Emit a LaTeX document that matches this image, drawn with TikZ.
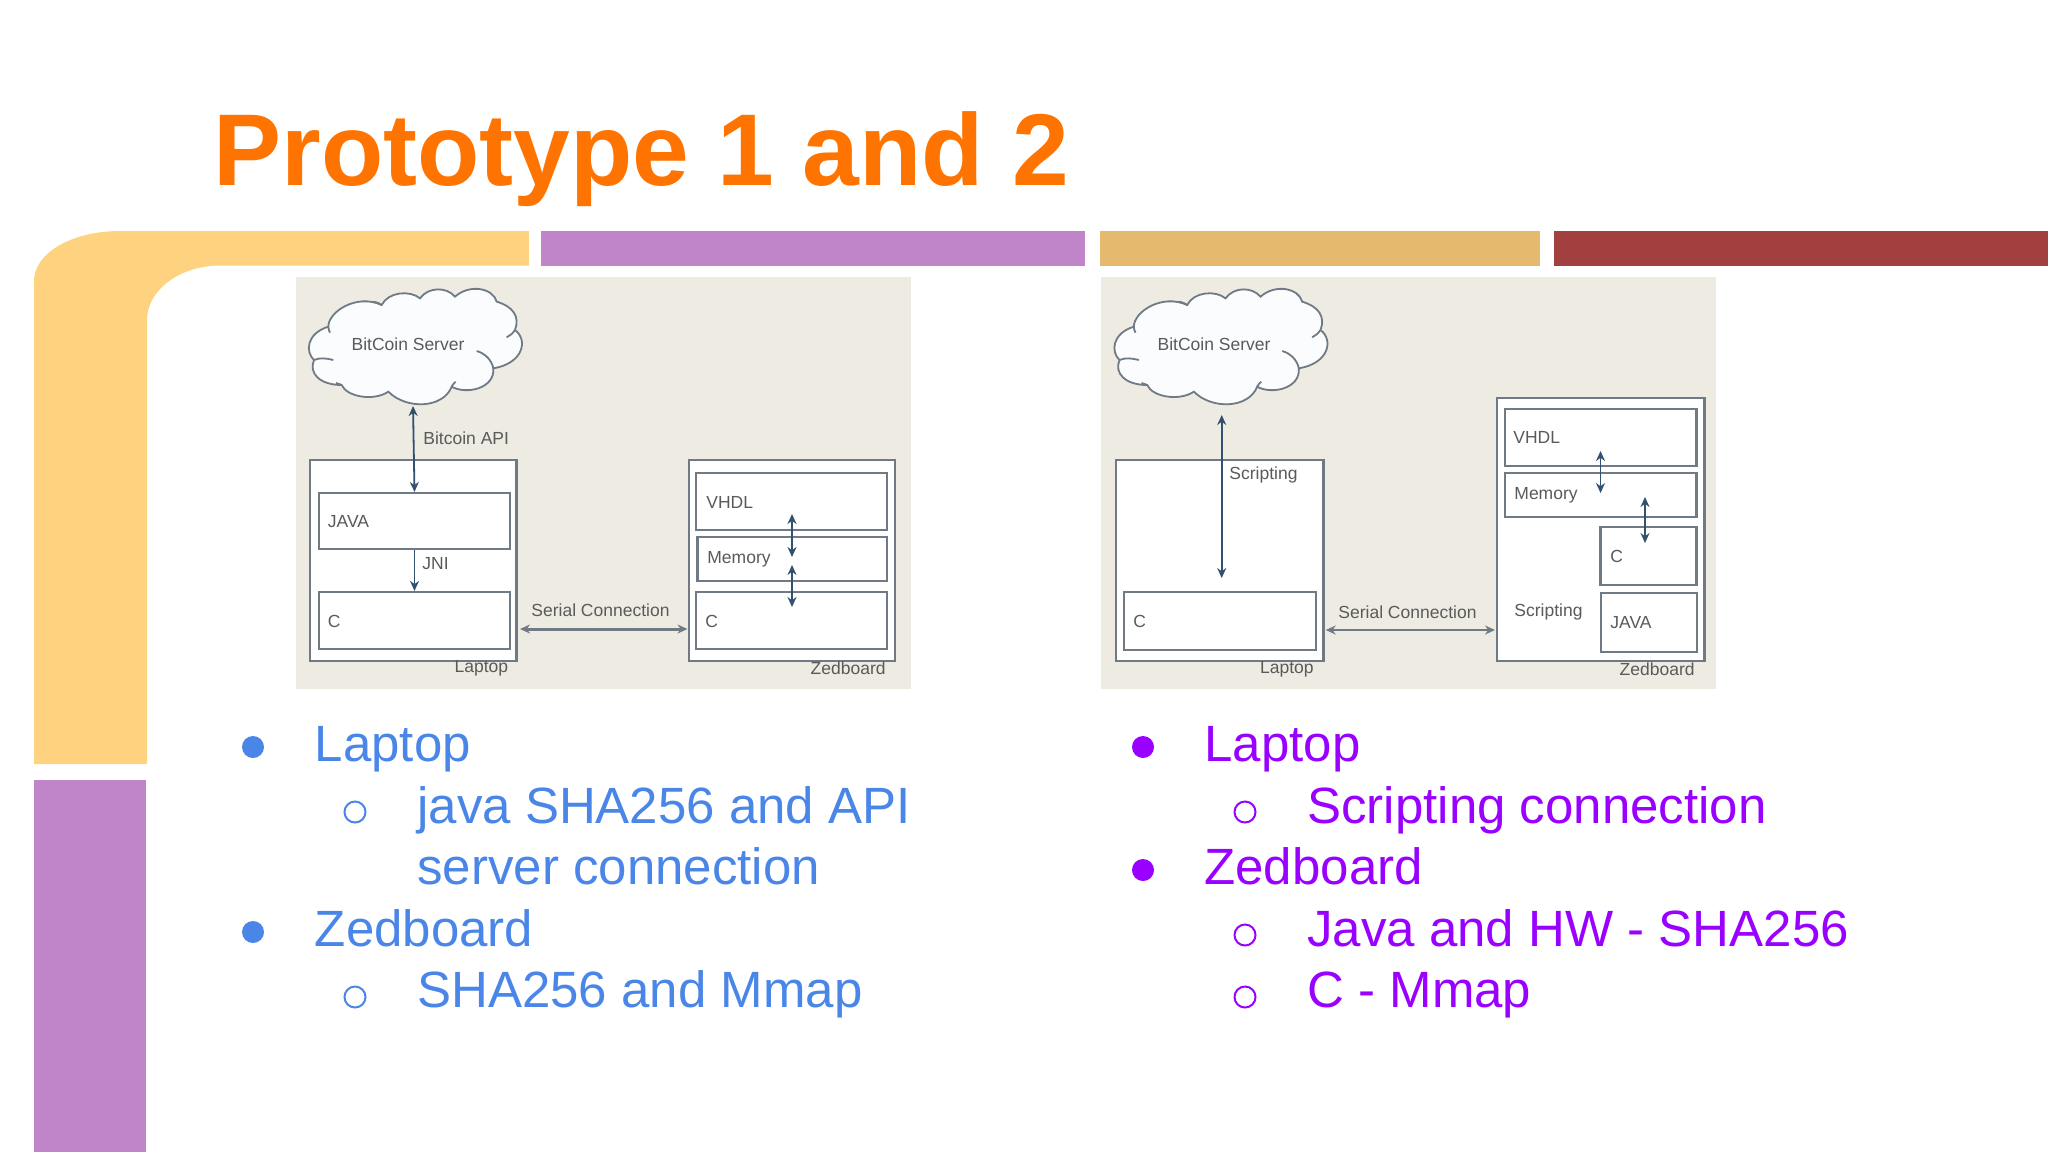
\documentclass[tikz,border=0pt]{standalone}
\usepackage{fontspec}
\setmainfont{Liberation Sans}
\usetikzlibrary{fit,arrows.meta}
\definecolor{bandyellow}{HTML}{FFD27F}
\definecolor{bandpurple}{HTML}{BF85C8}
\definecolor{bandgold}{HTML}{E6BA6E}
\definecolor{bandred}{HTML}{A23F3F}
\definecolor{titleorange}{HTML}{FF7300}
\definecolor{bulletblue}{HTML}{4A86E8}
\definecolor{bulletpurple}{HTML}{9900FF}
\definecolor{shotbg}{HTML}{EEEBE3}
\definecolor{boxline}{HTML}{6F7A84}
\definecolor{arrowblue}{HTML}{34506F}
\definecolor{shottext}{HTML}{5A5A5A}
\definecolor{cloudfill}{HTML}{FBFCFD}
\tikzset{
  x=0.5pt,y=-0.5pt,
  band/.style={fill=#1,draw=none},
  shot/.style={fill=shotbg,draw=none},
  outerbox/.style={draw=boxline,line width=1.2pt,fill=white,inner sep=0pt,rectangle},
  innerbox/.style={draw=boxline,line width=1.1pt,fill=white,inner sep=0pt,rectangle},
  cloudline/.style={draw=boxline,line width=0.9pt,fill=cloudfill},
  curl/.style={draw=boxline,line width=0.9pt},
  dtext/.style={font=\fontsize{8.75}{11}\selectfont,text=shottext,inner sep=0pt},
  dleft/.style={dtext,anchor=west},
  dright/.style={dtext,anchor=east},
  varrow/.style={draw=arrowblue,line width=0.9pt,{Stealth[length=5pt,width=4.5pt]}-{Stealth[length=5pt,width=4.5pt]}},
  oarrow/.style={draw=arrowblue,line width=0.9pt,-{Stealth[length=5pt,width=4.5pt]}},
  sarrow/.style={draw=boxline,line width=1.2pt,{Stealth[length=5pt,width=4.5pt]}-{Stealth[length=5pt,width=4.5pt]}},
  title/.style={font=\fontsize{51}{60}\selectfont\bfseries,text=titleorange,anchor=base west,inner sep=0pt},
  bodytext/.style={font=\fontsize{25.5}{30}\selectfont,anchor=base west,inner sep=0pt},
}
\newcommand{\cloudpath}[1]{%
  \begin{scope}[shift={(#1,280)},x=0.16667pt,y=-0.16667pt]
  \path[cloudline]
    (42,240) .. controls (15,215) and (20,160) .. (85,140)
    .. controls (85,95) and (170,40) .. (245,75)
    .. controls (265,35) and (330,30) .. (360,55)
    .. controls (385,20) and (440,20) .. (465,50)
    .. controls (510,10) and (580,25) .. (590,65)
    .. controls (640,80) and (660,110) .. (645,150)
    .. controls (685,180) and (670,250) .. (580,265)
    .. controls (585,325) and (500,345) .. (455,320)
    .. controls (430,385) and (320,390) .. (265,335)
    .. controls (220,365) and (140,350) .. (125,315)
    .. controls (60,315) and (25,280) .. (42,240) -- cycle;
  \path[curl] (42,240) .. controls (60,232) and (80,235) .. (100,240);
  \path[curl] (245,75) .. controls (238,70) and (230,66) .. (220,65);
  \path[curl] (530,213) .. controls (555,220) and (575,240) .. (580,265);
  \path[curl] (645,150) .. controls (638,160) and (630,167) .. (620,172);
  \path[curl] (125,315) .. controls (120,313) and (115,311) .. (108,309);
  \path[curl] (455,320) .. controls (458,314) and (462,309) .. (467,305);
  \path[curl] (85,140) .. controls (85,147) and (87,152) .. (90,158);
  \end{scope}}
\begin{document}
\begin{tikzpicture}
\useasboundingbox (0,0) rectangle (2048,1152);
\fill[white] (0,0) rectangle (2048,1152);
% decorative bands
\path[band=bandyellow] (34,764) -- (34,281) .. controls (34,253) and (72,231) .. (120,231)
  -- (529,231) -- (529,265.5) -- (220,265.5) .. controls (180,265.5) and (147,290) .. (147,320)
  -- (147,764) -- cycle;
\path[band=bandpurple] (34,780) rectangle (146,1152);
\path[band=bandpurple] (541,231) rectangle (1085,265.5);
\path[band=bandgold] (1100,231) rectangle (1540,265.5);
\path[band=bandred] (1554,231) rectangle (2048,265.5);
% title
\node[title] (ttl) at (213,185.5) {Prototype 1 and 2};
% left screenshot
\path[shot] (296,277) rectangle (910.5,689);
\cloudpath{300}
\node[dtext] (srv1) at (408,344) {BitCoin Server};
\coordinate (cl1) at (413,406);
\node[outerbox,fit={(310,460)(516.5,661)}] (lap1) {};
\node[innerbox,fit={(319,493)(510,549)}] (java1) {};
\node[innerbox,fit={(319,592)(510,649)}] (cc1) {};
\node[outerbox,fit={(689,460)(895,661)}] (zed1) {};
\node[innerbox,fit={(696,473)(887,530)}] (vhdl1) {};
\node[innerbox,fit={(697.5,537)(887,581)}] (mem1) {};
\node[innerbox,fit={(696,592)(887,649)}] (zc1) {};
\draw[varrow] (cl1) -- (java1.north);
\draw[oarrow] (java1.south) -- (cc1.north);
\coordinate (a1t) at (792,514); \coordinate (a1b) at (792,557);
\coordinate (a2t) at (792,565); \coordinate (a2b) at (792,607);
\draw[varrow] (a1t) -- (a1b);
\draw[varrow] (a2t) -- (a2b);
\coordinate (s1l) at (520,629); \coordinate (s1r) at (687.5,629);
\draw[sarrow,line width=1.5pt] (s1l) -- (s1r);
\node[dleft] (api1) at (423,438.5) {Bitcoin API};
\node[dleft] (jv1) at (327.5,521.5) {JAVA};
\node[dleft] (jni1) at (422,563.5) {JNI};
\node[dleft] (ct1) at (327.5,621) {C};
\node[dleft] (ser1) at (531,610) {Serial Connection};
\node[dright] (lt1) at (508.5,668.5) {Laptop};
\node[dright] (zt1) at (886,668.5) {Zedboard};
\node[dleft] (vt1) at (706,502) {VHDL};
\node[dleft] (mt1) at (707,559.5) {Memory};
\node[dleft] (czt1) at (705,621) {C};
% right screenshot
\path[shot] (1101,277) rectangle (1716,689);
\cloudpath{1105.5}
\node[dtext] (srv2) at (1214,344) {BitCoin Server};
\node[outerbox,fit={(1116,460)(1323.6,661)}] (lap2) {};
\node[innerbox,fit={(1123.7,592)(1316,650)}] (cc2) {};
\node[outerbox,fit={(1497,398)(1704.5,661)}] (zed2) {};
\node[innerbox,fit={(1504.6,409)(1696.5,466)}] (vhdl2) {};
\node[innerbox,fit={(1504.6,473)(1696.5,517)}] (mem2) {};
\node[innerbox,fit={(1600.5,527)(1696.5,585)}] (zc2) {};
\node[innerbox,fit={(1601,593)(1697,652)}] (zj2) {};
\coordinate (b0t) at (1221.7,415); \coordinate (b0b) at (1221.7,578);
\draw[varrow] (b0t) -- (b0b);
\coordinate (b1t) at (1600.5,451); \coordinate (b1b) at (1600.5,493);
\draw[varrow] (b1t) -- (b1b);
\coordinate (b2t) at (1645,497); \coordinate (b2b) at (1645,543);
\draw[varrow] (b2t) -- (b2b);
\coordinate (s2l) at (1325.7,630); \coordinate (s2r) at (1495,630);
\draw[sarrow] (s2l) -- (s2r);
\node[dleft] (scr2) at (1229,475) {Scripting};
\node[dleft] (ser2) at (1338,612) {Serial Connection};
\node[dleft] (scz2) at (1514,612) {Scripting};
\node[dleft] (jv2) at (1610,623) {JAVA};
\node[dleft] (czt2) at (1610,556) {C};
\node[dleft] (vt2) at (1513,437) {VHDL};
\node[dleft] (mt2) at (1514,495.5) {Memory};
\node[dleft] (ct2) at (1133,621) {C};
\node[dright] (lt2) at (1314,669.5) {Laptop};
\node[dright] (zt2) at (1695,669.5) {Zedboard};
% left list
\begin{scope}[text=bulletblue]
\node[bodytext] (l1) at (314.5,761) {Laptop};
\node[bodytext] (l2) at (417,823) {java SHA256 and API};
\node[bodytext] (l3) at (417,884.5) {server connection};
\node[bodytext] (l4) at (314.5,946) {Zedboard};
\node[bodytext] (l5) at (417,1007) {SHA256 and Mmap};
\end{scope}
\fill[bulletblue] (253,747) circle (11);
\fill[bulletblue] (253,932) circle (11);
\draw[bulletblue,line width=1pt] (355,812) circle (10.5);
\draw[bulletblue,line width=1pt] (355,997) circle (10.5);
% right list
\begin{scope}[text=bulletpurple]
\node[bodytext] (r1) at (1204,761) {Laptop};
\node[bodytext] (r2) at (1307,823) {Scripting connection};
\node[bodytext] (r3) at (1204,884.5) {Zedboard};
\node[bodytext] (r4) at (1307,946) {Java and HW - SHA256};
\node[bodytext] (r5) at (1307,1007) {C - Mmap};
\end{scope}
\fill[bulletpurple] (1143,747) circle (11);
\fill[bulletpurple] (1143,870) circle (11);
\draw[bulletpurple,line width=1pt] (1245,812) circle (10.5);
\draw[bulletpurple,line width=1pt] (1245,935) circle (10.5);
\draw[bulletpurple,line width=1pt] (1245,997) circle (10.5);
\end{tikzpicture}
\end{document}
